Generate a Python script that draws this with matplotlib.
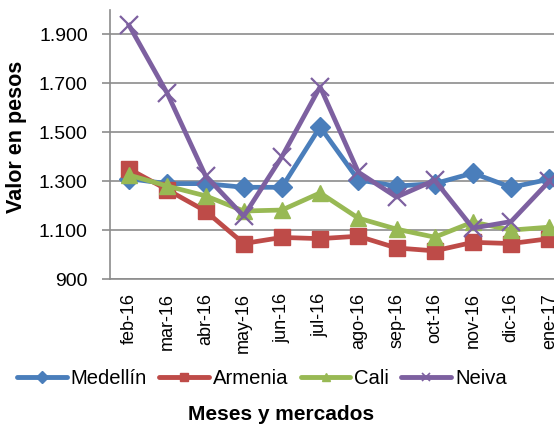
import matplotlib
matplotlib.use("Agg")
import matplotlib.pyplot as plt
from matplotlib.ticker import FuncFormatter

months = ["feb-16", "mar-16", "abr-16", "may-16", "jun-16", "jul-16",
          "ago-16", "sep-16", "oct-16", "nov-16", "dic-16", "ene-17"]
medellin = [1310, 1290, 1290, 1275, 1275, 1522, 1305, 1280, 1290, 1333, 1275, 1308]
armenia = [1350, 1265, 1178, 1045, 1070, 1065, 1075, 1027, 1015, 1050, 1045, 1065]
cali = [1325, 1280, 1240, 1178, 1182, 1252, 1149, 1104, 1071, 1133, 1100, 1112]
neiva = [1937, 1659, 1322, 1157, 1400, 1686, 1337, 1235, 1304, 1108, 1135, 1300]
yticks = [900, 1100, 1300, 1500, 1700, 1900]

series = [("Medellín", medellin, "#4A7EBB", "D", 10),
          ("Armenia", armenia, "#BE4B48", "s", 11),
          ("Cali", cali, "#98B954", "^", 11.5),
          ("Neiva", neiva, "#7D60A0", "x", 13)]

plt.rcParams['font.family'] = ['Liberation Sans', 'DejaVu Sans']

fig = plt.figure(figsize=(5.54, 4.25), dpi=100)
axw = 12 * 38.2
ax = fig.add_axes([110/554, (425-279)/425, axw/554, (279-10)/425])

x = list(range(len(months)))
for name, vals, col, mk, ms in series:
    kw = dict(markeredgewidth=1.6) if mk == "x" else dict(markeredgecolor=col)
    ax.plot(x, vals, color=col, lw=3.4, marker=mk, markersize=ms,
            markerfacecolor=col, label=name, zorder=3,
            solid_joinstyle="round", **kw)

ax.set_xlim(-0.5, len(months) - 0.5)
ax.set_ylim(900, 2000)
ax.set_yticks(yticks)
ax.yaxis.set_major_formatter(FuncFormatter(lambda v, p: f"{int(v):,}".replace(",", ".")))
ax.grid(axis="y", color="#8C8C8C", lw=1.2, zorder=0)
ax.set_xticks(x)
ax.set_xticklabels(months, rotation=90, fontsize=13)
ax.tick_params(axis="x", length=0, pad=10)
ax.tick_params(axis="y", labelsize=14, length=6, color="#8C8C8C", width=1.2, pad=10)
for s in ["top", "right"]:
    ax.spines[s].set_visible(False)
for s in ["left", "bottom"]:
    ax.spines[s].set_color("#8C8C8C")
    ax.spines[s].set_linewidth(1.2)

ax.set_ylabel("Valor en pesos", fontsize=15.5, fontweight="bold")
ax.yaxis.set_label_coords((27 - 110) / axw, 0.53)

leg_handles = []
for name, vals, col, mk, ms in series:
    kw = dict(markeredgewidth=1.2) if mk == "x" else dict(markeredgecolor=col)
    h, = ax.plot([], [], color=col, lw=3.5, marker=mk, markersize=6,
                 markerfacecolor=col, solid_capstyle="round", **kw)
    leg_handles.append(h)
fig.legend(leg_handles, [s[0] for s in series], loc="center left",
           bbox_to_anchor=(17/554, 1 - 379/425), ncol=4, frameon=False,
           fontsize=14.6, handlelength=2.45, handletextpad=0.2,
           columnspacing=0.6, borderaxespad=0, borderpad=0)

fig.text(281/554, 1 - 415/425, "Meses y mercados", ha="center", va="center",
         fontsize=15, fontweight="bold")

fig.savefig("out.png", dpi=100)
